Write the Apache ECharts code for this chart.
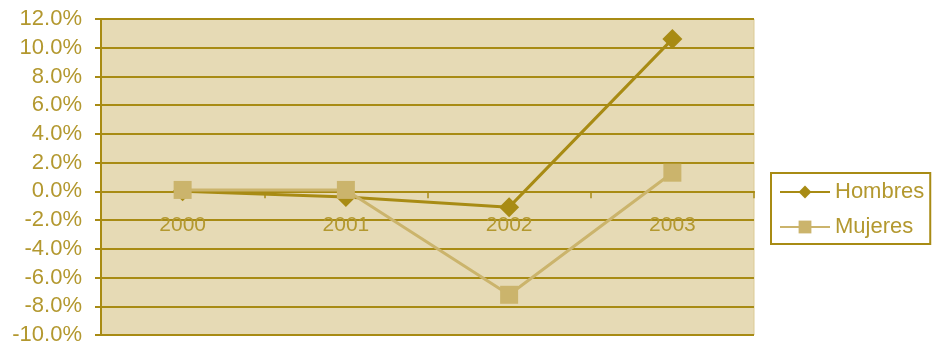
<!DOCTYPE html>
<html>
<head>
<meta charset="utf-8">
<script src="https://cdn.jsdelivr.net/npm/echarts@6/dist/echarts.min.js"></script>
<style>
  html, body { margin: 0; padding: 0; background: #ffffff; }
  #chart { width: 937px; height: 345px; }
</style>
</head>
<body>
<div id="chart"></div>
<script>
// Year-over-year change (%) by sex
const years = ['2000', '2001', '2002', '2003'];
const hombres = [0.0, -0.4, -1.1, 10.6];
const mujeres = [0.1, 0.1, -7.2, 1.3];
const yMin = -10, yMax = 12, yStep = 2;

const gold = '#A88B14';
const tan = '#CBB46C';
const textGold = '#B3982F';
const font = 'Arial, "Liberation Sans", sans-serif';
const labelGap = 23; // distance of year labels below the zero line

const chart = echarts.init(document.getElementById('chart'));
chart.setOption({
  animation: false,
  backgroundColor: '#ffffff',
  grid: {
    left: 101, right: 183, top: 19, bottom: 10,
    outerBoundsMode: 'none',
    containLabel: false,
    show: true,
    backgroundColor: '#E6DAB5',
    borderColor: '#DCCB95',
    borderWidth: 1
  },
  legend: {
    orient: 'vertical',
    left: 771, top: 173,
    padding: [8, 6, 6, 8],
    itemWidth: 50, itemHeight: 16,
    itemGap: 13,
    borderColor: gold, borderWidth: 2,
    textStyle: { color: textGold, fontSize: 22, fontFamily: font },
    data: ['Hombres', 'Mujeres']
  },
  xAxis: {
    type: 'category',
    data: years,
    boundaryGap: true,
    axisLine: { onZero: true, lineStyle: { color: gold, width: 2 } },
    axisTick: { show: true, length: 7, inside: false, lineStyle: { color: gold, width: 1.5 } },
    axisLabel: { color: textGold, fontSize: 21, fontFamily: font, margin: labelGap }
  },
  yAxis: {
    type: 'value',
    min: yMin, max: yMax, interval: yStep,
    axisLine: { show: true, lineStyle: { color: gold, width: 2 } },
    axisTick: { show: true, length: 6, lineStyle: { color: gold, width: 2 } },
    axisLabel: {
      color: textGold, fontSize: 22, fontFamily: font, margin: 19,
      formatter: v => v.toFixed(1) + '%'
    },
    splitLine: { show: true, lineStyle: { color: gold, width: 2 } }
  },
  series: [
    {
      name: 'Hombres',
      type: 'line',
      data: hombres,
      symbol: 'diamond',
      symbolSize: 20,
      lineStyle: { color: gold, width: 3 },
      itemStyle: { color: gold },
      z: 3
    },
    {
      name: 'Mujeres',
      type: 'line',
      data: mujeres,
      symbol: 'rect',
      symbolSize: 18,
      lineStyle: { color: tan, width: 3 },
      itemStyle: { color: tan },
      z: 4
    }
  ]
});

// Year labels hang under the zero line rather than the bottom edge of the plot.
const zeroY = chart.convertToPixel({ yAxisIndex: 0 }, 0);
const bottomY = chart.convertToPixel({ yAxisIndex: 0 }, yMin);
chart.setOption({
  xAxis: { axisLabel: { margin: labelGap - (bottomY - zeroY) } }
});
</script>
</body>
</html>
